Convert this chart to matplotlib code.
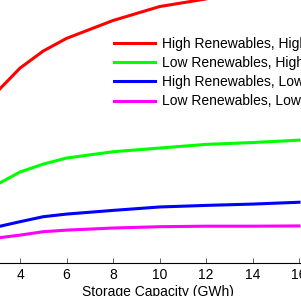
import matplotlib
matplotlib.use('Agg')
import matplotlib.pyplot as plt
import numpy as np

plt.rcParams['font.family'] = ['Liberation Sans', 'DejaVu Sans']

# storage capacity (GWh) and the four scenario curves
storage_gwh = [3, 4, 5, 6, 8, 10, 12, 14, 16]
high_ren_high = [65.0, 74.1, 80.6, 85.4, 92.2, 97.5, 100.4, 101.1, 100.8]
low_ren_high = [29.8, 34.6, 37.6, 39.9, 42.3, 43.7, 45.1, 45.8, 46.7]
high_ren_low = [13.7, 15.7, 17.6, 18.6, 20.0, 21.3, 21.9, 22.4, 23.1]
low_ren_low = [9.5, 10.6, 11.9, 12.5, 13.3, 13.8, 14.0, 14.0, 14.1]

labels = [
    'High Renewables, High Demand',
    'Low Renewables, High Demand',
    'High Renewables, Low Demand',
    'Low Renewables, Low Demand',
]
colors = ['#ff0000', '#00ff00', '#0000ff', '#ff00ff']

fig = plt.figure(figsize=(3.01, 2.96), dpi=100)
# axes deliberately larger than the figure: the picture is a crop
ax = fig.add_axes([-26.5 / 301, 33 / 296, 372 / 301, 276.15 / 296])

for ys, lab, col in zip(
    [high_ren_high, low_ren_high, high_ren_low, low_ren_low], labels, colors
):
    ax.plot(storage_gwh, ys, color=col, lw=2.2, label=lab)

ax.set_xlim(2, 18)
ax.set_ylim(0, 105)
ax.set_xticks([2, 4, 6, 8, 10, 12, 14, 16, 18])
ax.tick_params(direction='in', length=3.5, width=0.6, labelsize=10,
               top=True, right=True, color='#444444', pad=3.5)
for sp in ax.spines.values():
    sp.set_linewidth(0.8)

fig.text(157.5 / 301, (296 - 292) / 296, 'Storage Capacity (GWh)',
         ha='center', va='center', fontsize=10)

ax.legend(loc='upper left', bbox_to_anchor=(114 / 301, (296 - 37) / 296),
          bbox_transform=fig.transFigure, frameon=False, borderpad=0,
          borderaxespad=0, handlelength=2.95, handletextpad=0.5,
          labelspacing=0.37, fontsize=10)

plt.savefig('out.png', dpi=100)
plt.close()
